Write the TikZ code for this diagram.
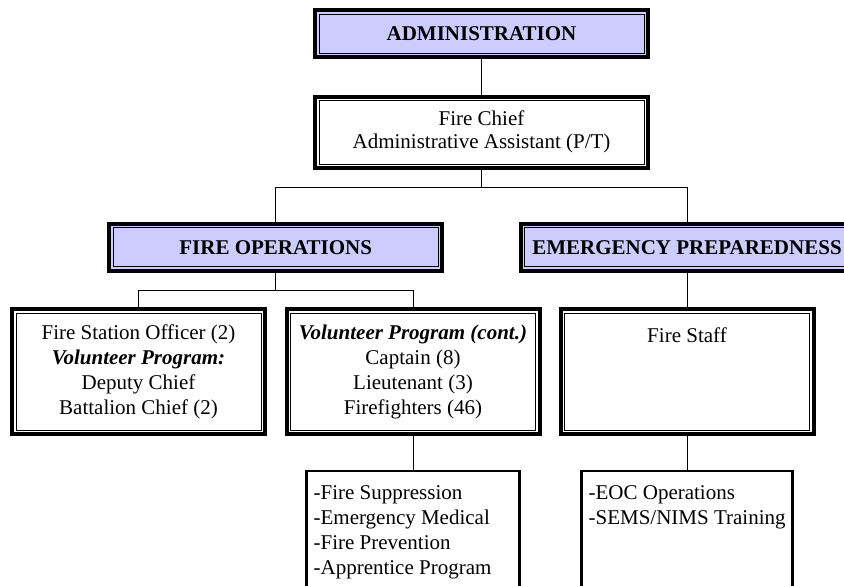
\documentclass[tikz,border=0pt]{standalone}
\usepackage{fontspec}
\setmainfont{Liberation Serif}
\usetikzlibrary{positioning}
\usetikzlibrary{calc}

\definecolor{headblue}{RGB}{204,204,255}

\tikzset{
  dblbox/.style={draw, line width=4pt, inner sep=0pt, align=center,
    path picture={\draw[line width=0.9pt] ([shift={(4pt,-4pt)}]path picture bounding box.north west) rectangle ([shift={(-4pt,4pt)}]path picture bounding box.south east);}},
  headbox/.style={dblbox, fill=headblue, font=\fontsize{21}{23}\selectfont\bfseries,
    minimum width=333pt, minimum height=47pt},
  staffbox/.style={dblbox, font=\fontsize{21}{25}\selectfont,
    minimum width=253pt, minimum height=125pt},
  taskbox/.style={draw, line width=2.2pt, minimum height=140pt},
  tasktext/.style={anchor=north west, inner sep=0pt, align=left, font=\fontsize{21}{25}\selectfont},
  link/.style={line width=0.9pt}
}

\begin{document}
\begin{tikzpicture}[x=1pt, y=-1pt]

  \useasboundingbox (0,0) rectangle (844,586);
  \clip (0,0) rectangle (844,586);

  %top of the chart
  \node[headbox] (adm) at (481.5,34) {ADMINISTRATION};
  \node[dblbox, font=\fontsize{21}{23}\selectfont, minimum width=333pt, minimum height=71.5pt]
       (chief) at (481.5,132.3) {Fire Chief\\Administrative Assistant (P/T)};

  %divisions
  \node[headbox] (fireops) at (275.7,247.4) {FIRE OPERATIONS};
  \node[headbox] (emerg) at (687,247.4) {EMERGENCY PREPAREDNESS};

  %staff boxes
  \node[staffbox] (station) at (138.5,371.8)
       {Fire Station Officer (2)\\\textbf{\textit{Volunteer Program:}}\\Deputy Chief\\Battalion Chief (2)};
  \node[staffbox] (vol) at (413,371.8)
       {\textbf{\textit{Volunteer Program (cont.)}}\\Captain (8)\\Lieutenant (3)\\Firefighters (46)};
  \node[staffbox] (staff) at (687,371.8) {};
  \node[anchor=north, inner sep=0pt, font=\fontsize{21}{25}\selectfont]
       (stafftxt) at ([yshift=-20pt]staff.north) {Fire Staff};

  %task lists
  \node[taskbox, minimum width=213pt] (suppr) at (413,541) {};
  \node[tasktext] (supprtxt) at ([xshift=8pt, yshift=-15pt]suppr.north west)
       {-Fire Suppression\\-Emergency Medical\\-Fire Prevention\\-Apprentice Program};
  \node[taskbox, minimum width=211pt] (eoc) at (687,541) {};
  \node[tasktext] (eoctxt) at ([xshift=8pt, yshift=-15pt]eoc.north west)
       {-EOC Operations\\-SEMS/NIMS Training};

  %connectors
  \foreach \a/\b in {adm/chief, emerg/staff, vol/suppr, staff/eoc}{
    \draw[link] (\a.south) -- (\b.north);
  }
  \draw[link] (fireops.north) -- ++(0,-34) coordinate (bar1) -| (emerg.north);
  \draw[link] (chief.south) -- (chief.south |- bar1);
  \draw[link] (fireops.south) -- ++(0,18) coordinate (bar2);
  \draw[link] (station.north) |- (bar2) -| (vol.north);

\end{tikzpicture}
\end{document}
